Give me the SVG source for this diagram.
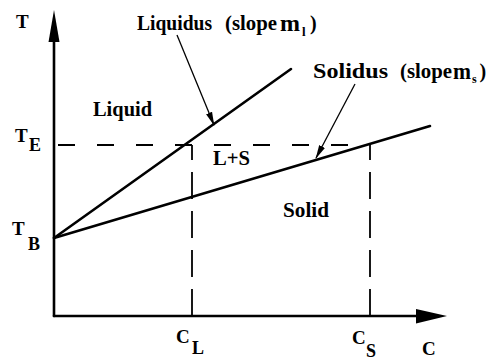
<svg xmlns="http://www.w3.org/2000/svg" width="486" height="363" viewBox="0 0 486 363">
<style>
text{font-family:"Liberation Serif","Times New Roman",serif;font-weight:bold;fill:#000}
.lbl{font-size:20px}
.ax{font-size:19px}
.sub{font-size:18px}
.line{stroke:#000;stroke-width:2.6;fill:none;stroke-linecap:round}
.dash{stroke:#000;stroke-width:1.8;fill:none}
.lead{stroke:#000;stroke-width:1.3;fill:none}
</style>
<defs>
<marker id="ah" markerWidth="14" markerHeight="8" refX="13" refY="4" orient="auto" markerUnits="userSpaceOnUse">
<path d="M0,0.8 L14,4 L0,7.2 Z" fill="#000"/>
</marker>
</defs>
<rect width="486" height="363" fill="#fff"/>
<g id="axes">
<line class="line" x1="54" y1="316" x2="54" y2="40"/>
<polygon points="54,10 48.5,42 59.5,42" fill="#000"/>
<line class="line" x1="54" y1="316" x2="420" y2="316"/>
<polygon points="447,316 416,309 416,323.5" fill="#000"/>
</g>
<g id="connectors">
<line id="liquidus" class="line" x1="54" y1="238" x2="291" y2="69"/>
<line id="solidus" class="line" x1="54" y1="238" x2="430" y2="126"/>
<line class="dash" x1="58" y1="145" x2="370" y2="145" stroke-dasharray="17 22"/>
<line class="dash" x1="192" y1="316" x2="192" y2="145" stroke-dasharray="27 12"/>
<line class="dash" x1="370" y1="316" x2="370" y2="145" stroke-dasharray="27 12"/>
<line class="lead" x1="177" y1="35" x2="214" y2="125" marker-end="url(#ah)"/>
<line class="lead" x1="355" y1="84" x2="316" y2="158" marker-end="url(#ah)"/>
</g>
<g id="labels">
<text class="ax" x="16" y="28">T</text>
<text class="ax" x="15" y="142">T</text>
<text class="sub" x="29" y="151">E</text>
<text class="ax" x="12" y="235">T</text>
<text class="sub" x="28" y="250">B</text>
<text class="ax" x="176" y="343" font-size="17">C</text>
<text class="sub" x="192" y="354" font-size="17">L</text>
<text class="ax" x="352" y="344" font-size="17">C</text>
<text class="sub" x="366" y="357" font-size="17">S</text>
<text class="ax" x="422" y="355">C</text>
<text class="lbl" x="93" y="116" textLength="59" lengthAdjust="spacingAndGlyphs">Liquid</text>
<text class="lbl" x="213" y="165" font-size="18" textLength="37" lengthAdjust="spacingAndGlyphs">L+S</text>
<text class="lbl" x="283" y="217" textLength="46" lengthAdjust="spacingAndGlyphs">Solid</text>
</g>
<g id="liquidus-label">
<text class="lbl" x="137" y="30" textLength="75" lengthAdjust="spacingAndGlyphs">Liquidus</text>
<text class="lbl" x="225" y="30" textLength="52" lengthAdjust="spacingAndGlyphs">(slope</text>
<text x="280" y="31" font-size="24" textLength="20" lengthAdjust="spacingAndGlyphs">m</text>
<text x="302" y="36" font-size="13">l</text>
<text class="lbl" x="310" y="30">)</text>
</g>
<g id="solidus-label">
<text class="lbl" x="313" y="78" textLength="75" lengthAdjust="spacingAndGlyphs">Solidus</text>
<text class="lbl" x="400" y="78" textLength="52" lengthAdjust="spacingAndGlyphs">(slope</text>
<text x="453" y="79" font-size="24" textLength="18" lengthAdjust="spacingAndGlyphs">m</text>
<text x="472" y="83" font-size="12">s</text>
<text class="lbl" x="479.5" y="78">)</text>
</g>
</svg>
